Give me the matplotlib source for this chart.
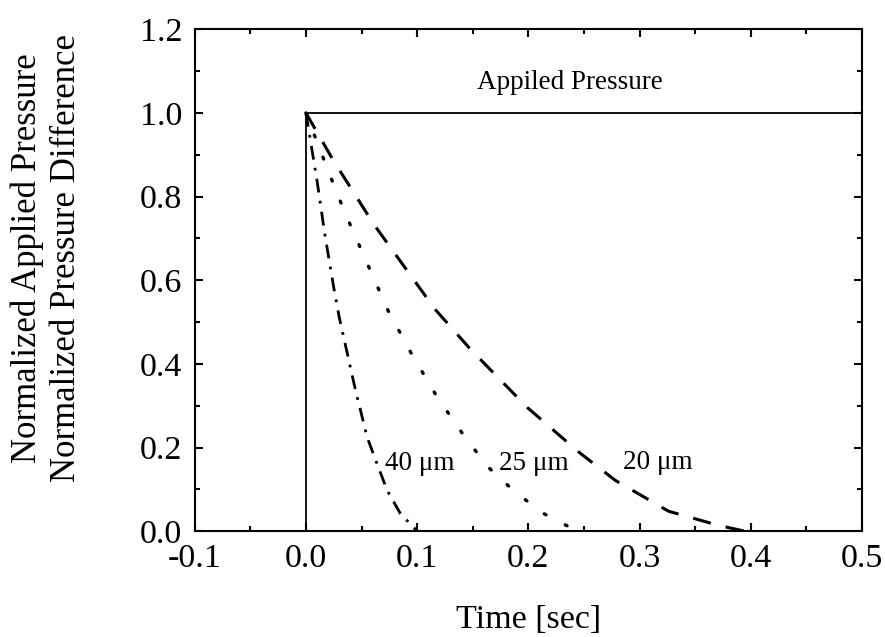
import numpy as np
import matplotlib
matplotlib.use('Agg')
import matplotlib.pyplot as plt
from matplotlib.ticker import MultipleLocator

plt.rcParams['font.family'] = ['Liberation Serif', 'DejaVu Serif']
plt.rcParams['mathtext.fontset'] = 'stix'

# applied pressure step
t_applied = [-0.1, 0.0, 0.0, 0.5]
p_applied = [0.0, 0.0, 1.0, 1.0]

# 20 um (dashed)
t_20 = [0.0, 0.025, 0.061, 0.116, 0.148, 0.199, 0.245, 0.278, 0.326, 0.371, 0.395]
p_20 = [1.0, 0.885, 0.734, 0.531, 0.435, 0.296, 0.190, 0.122, 0.048, 0.014, 0.0]

# 25 um (dotted)
t_25 = [0.0, 0.005, 0.020, 0.035, 0.052, 0.074, 0.095, 0.118, 0.143, 0.164, 0.188, 0.214, 0.237, 0.245]
p_25 = [1.0, 0.965, 0.862, 0.762, 0.659, 0.527, 0.424, 0.321, 0.225, 0.153, 0.094, 0.042, 0.010, 0.0]

# 40 um (dash-dot)
t_40 = [0.0, 0.010, 0.017, 0.025, 0.030, 0.044, 0.055, 0.064, 0.073, 0.085, 0.098, 0.100]
p_40 = [1.0, 0.838, 0.710, 0.583, 0.511, 0.344, 0.225, 0.161, 0.098, 0.042, 0.006, 0.0]

fig = plt.figure(figsize=(8.85, 6.37), dpi=100)
ax = fig.add_axes([0.220, 0.166, 0.754, 0.788])

ax.plot(t_applied, p_applied, color='black', lw=1.3)
ax.plot(t_20, p_20, color='black', lw=2.2, dashes=(6, 5))
ax.plot(t_25, p_25, color='black', lw=2.4, dashes=(0.6, 6.5), dash_capstyle='round')
ax.plot(t_40, p_40, color='black', lw=2.0, dashes=(5, 3, 1, 3))

ax.text(0.154, 1.072, 'Appiled Pressure', fontsize=19.5, va='center', ha='left')
ax.text(0.071, 0.162, '40 \u03bcm', fontsize=19.5, va='center', ha='left')
ax.text(0.174, 0.162, '25 \u03bcm', fontsize=19.5, va='center', ha='left')
ax.text(0.285, 0.165, '20 \u03bcm', fontsize=19.5, va='center', ha='left')

ax.set_xlim(-0.1, 0.5)
ax.set_ylim(0, 1.2)
ax.xaxis.set_major_locator(MultipleLocator(0.1))
ax.xaxis.set_minor_locator(MultipleLocator(0.05))
ax.yaxis.set_major_locator(MultipleLocator(0.2))
ax.yaxis.set_minor_locator(MultipleLocator(0.1))
ax.xaxis.set_major_formatter(matplotlib.ticker.FormatStrFormatter('%.1f'))
ax.yaxis.set_major_formatter(matplotlib.ticker.FormatStrFormatter('%.1f'))

ax.tick_params(which='both', direction='in', top=True, right=True, width=1.5, labelsize=24.5)
ax.tick_params(which='major', length=6, pad=9)
ax.tick_params(which='minor', length=3.5)
for s in ax.spines.values():
    s.set_linewidth(1.5)

ax.set_xlabel('Time [sec]', fontsize=24.5, labelpad=22)
fig.text(0.053, 0.595, 'Normalized Applied Pressure\nNormalized Pressure Difference',
         rotation=90, fontsize=25, ha='center', va='center',
         multialignment='center', linespacing=1.25)

fig.savefig('out.png', dpi=100)
